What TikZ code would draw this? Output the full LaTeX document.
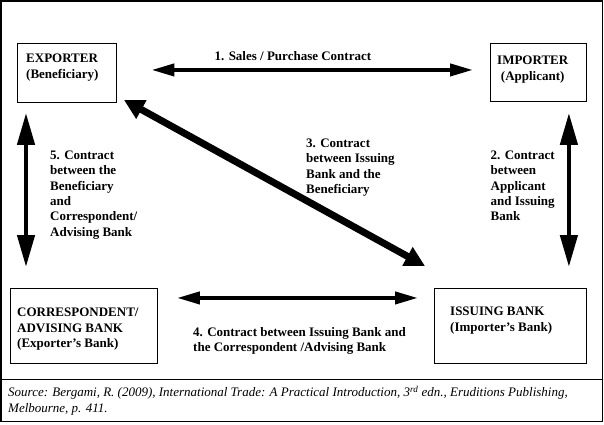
\documentclass[tikz,border=0pt]{standalone}
\usepackage{fontspec}
\setmainfont{Liberation Serif}
\usepackage{tikz}
\usetikzlibrary{arrows.meta, positioning}

\begin{document}
\begin{tikzpicture}[
        x=1pt, y=-1pt,
        party/.style={rectangle, draw, line width=0.9pt, anchor=north west, inner sep=0pt},
        party_text/.style={anchor=north west, inner sep=0pt, align=left, font=\bfseries\fontsize{13}{15.2}\selectfont},
        contract_text/.style={party_text, font=\bfseries\fontsize{13}{15.4}\selectfont},
        source_text/.style={anchor=north west, inner sep=0pt, align=left, font=\itshape\fontsize{13}{16}\selectfont},
        flat_arrow/.style={<->, >={Triangle[length=23pt, width=12pt]}, line width=4pt},
        tall_arrow/.style={<->, >={Triangle[length=32pt, width=17pt]}, line width=4.5pt},
        fat_arrow/.style={<->, >={Triangle[length=20pt, width=20pt]}, line width=7pt}
    ]
    \useasboundingbox (0,0) rectangle (604,424);
    % frame and source line
    \draw[line width=1.3pt] (1,1) rectangle (602.5,421.5);
    \draw[line width=1.3pt] (1,379.5) -- (602.5,379.5);

    % the four parties
    \node[party, minimum width=99pt, minimum height=59pt] (exporter) at (16.5,43) {};
    \node[party, minimum width=96pt, minimum height=58pt] (importer) at (490,43) {};
    \node[party, minimum width=147pt, minimum height=75pt] (corresp) at (9.5,287.5) {};
    \node[party, minimum width=152pt, minimum height=75pt] (issuing) at (434,287.5) {};

    \node[party_text, below right=11pt and 9.5pt of exporter.north west] (exporter_txt) {EXPORTER\\(Beneficiary)};
    \node[party_text, align=center, below right=13pt and 7pt of importer.north west] (importer_txt) {IMPORTER\\(Applicant)};
    \node[party_text, below right=20.5pt and 7.5pt of corresp.north west] (corresp_txt) {CORRESPONDENT/\\ADVISING BANK\\(Exporter's Bank)};
    \node[party_text, below right=19.5pt and 16pt of issuing.north west] (issuing_txt) {ISSUING BANK\\(Importer's Bank)};

    % contracts
    \draw[flat_arrow] ([xshift=35pt, yshift=3pt]exporter.east) -- ([xshift=-17pt, yshift=2.5pt]importer.west)
        node[contract_text, anchor=south, pos=0.44, above=7pt] (sales) {1. Sales / Purchase Contract};
    \draw[tall_arrow] ([xshift=-18pt, yshift=-11pt]importer.south east) -- ([xshift=-18pt, yshift=20.5pt]issuing.north east);
    \draw[fat_arrow] ([xshift=7.5pt, yshift=3pt]exporter.south east) -- ([xshift=-9pt, yshift=21.5pt]issuing.north west);
    \draw[flat_arrow] ([xshift=19.5pt, yshift=27.5pt]corresp.east) -- ([xshift=-16pt, yshift=27.5pt]issuing.west);
    \draw[tall_arrow] ([xshift=9.5pt, yshift=-10pt]exporter.south west) -- ([xshift=16.5pt, yshift=20.5pt]corresp.north west);

    \node[contract_text] (contract_two) at (490.5,150.5) {2. Contract\\between\\Applicant\\and Issuing\\Bank};
    \node[contract_text] (contract_three) at (306,138.5) {3. Contract\\between Issuing\\Bank and the\\Beneficiary};
    \node[contract_text] (contract_four) at (193,327) {4. Contract between Issuing Bank and\\the Correspondent /Advising Bank};
    \node[contract_text] (contract_five) at (50,150.5) {5. Contract\\between the\\Beneficiary\\and\\Correspondent/\\Advising Bank};

    \node[source_text] (source) at (8,386) {Source: Bergami, R. (2009), International Trade: A Practical Introduction, 3\textsuperscript{rd} edn., Eruditions Publishing,\\Melbourne, p. 411.};
\end{tikzpicture}
\end{document}
